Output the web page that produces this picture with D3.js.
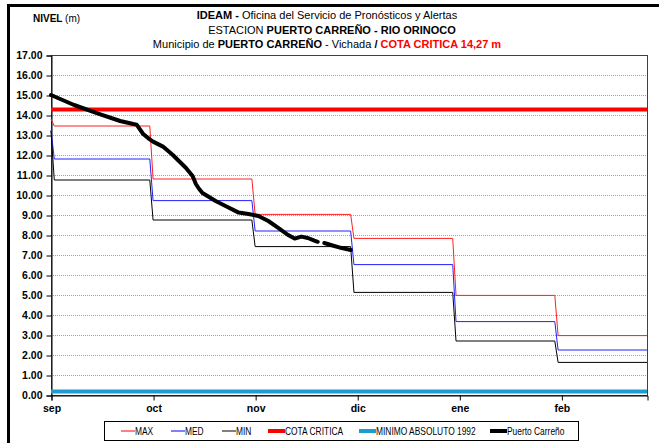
<!DOCTYPE html>
<html>
<head>
<meta charset="utf-8">
<script src="https://cdn.jsdelivr.net/npm/d3@7/dist/d3.min.js"></script>
<style>
  html, body { margin: 0; padding: 0; background: #fff; }
  svg { display: block; }
  text { font-family: "Liberation Sans Narrow", "Arial Narrow", "Liberation Sans", Arial, sans-serif; }
</style>
</head>
<body>
<svg id="chart" width="659" height="443"></svg>
<script>
// Monthly reference levels (m) — each month is a flat step
const monthNames = ["sep", "oct", "nov", "dic", "ene", "feb"];
const monthTickDay = [0, 31, 62, 93, 124, 155];   // axis tick positions (day index, 0 = 31 ago)
const monthFirstDay = [1, 31, 62, 92, 123, 154];
const monthLastDay  = [30, 61, 91, 122, 153, 181];
const maxStart = 13.8, medStart = 13.25, minStart = 13.2;   // value on day 0
const maxValues = [13.45, 10.80, 9.03, 7.83, 4.98, 2.97];
const medValues = [11.80, 9.72, 8.20, 6.52, 3.67, 2.25];
const minValues = [10.75, 8.75, 7.42, 5.13, 2.70, 1.63];

const cotaCritica = 14.27;
const minimoAbsoluto1992 = 0.18;

// Observed daily level at Puerto Carreño (null = missing reading)
const obsDay = [0, 7, 15, 21, 25, 26, 28, 30, 31, 34, 37, 41, 43, 44, 45, 46, 50, 53, 57, 60, 63, 66, 69, 72, 74, 76, 78, 80, 81, 82, 83, 85, 88, 91];
const obsLevel = [15.00, 14.50, 14.03, 13.70, 13.55, 13.52, 13.05, 12.78, 12.67, 12.42, 12.00, 11.35, 10.95, 10.55, 10.30, 10.10, 9.70, 9.45, 9.12, 9.05, 8.95, 8.70, 8.36, 8.00, 7.82, 7.92, 7.85, 7.72, 7.66, null, 7.60, 7.50, 7.36, 7.25];

const yTicks = d3.range(0, 17.01, 1);

const svg = d3.select("#chart");
const W = 659, H = 443;
const plot = { left: 51, top: 55, right: 647, bottom: 395 };

const x = d3.scaleLinear().domain([0, 181]).range([plot.left, plot.right]);
const y = d3.scaleLinear().domain([0, 17]).range([plot.bottom, plot.top]);

// outer frame
svg.append("rect")
  .attr("x", 8.5).attr("y", 5.5).attr("width", W + 10).attr("height", H + 10)
  .attr("fill", "none").attr("stroke", "#000").attr("stroke-width", 3);

// titles
const title = svg.append("g").attr("text-anchor", "middle").attr("font-size", 11).attr("fill", "#000");
const t1 = title.append("text").attr("x", 327).attr("y", 19);
t1.append("tspan").attr("font-weight", "bold").text("IDEAM - ");
t1.append("tspan").text("Oficina del Servicio de Pronósticos y Alertas");
const t2 = title.append("text").attr("x", 332).attr("y", 33.5);
t2.append("tspan").text("ESTACION ");
t2.append("tspan").attr("font-weight", "bold").text("PUERTO CARREÑO - RIO ORINOCO");
const t3 = title.append("text").attr("x", 327).attr("y", 48);
t3.append("tspan").text("Municipio de ");
t3.append("tspan").attr("font-weight", "bold").text("PUERTO CARREÑO");
t3.append("tspan").text(" - Vichada ");
t3.append("tspan").attr("font-weight", "bold").text(" /  ");
t3.append("tspan").attr("font-weight", "bold").attr("fill", "#ff0000").text("COTA CRITICA 14,27 m");

const yl = svg.append("text").attr("x", 33).attr("y", 22).attr("font-size", 10);
yl.append("tspan").attr("font-weight", "bold").text("NIVEL ");
yl.append("tspan").text("(m)");

// horizontal dotted grid
svg.append("g")
  .selectAll("line").data(yTicks.filter(v => v > 0 && v < 17)).join("line")
  .attr("x1", plot.left).attr("x2", plot.right)
  .attr("y1", d => y(d) + 0.5).attr("y2", d => y(d) + 0.5)
  .attr("stroke", "#a0a0a0").attr("stroke-width", 1).attr("stroke-dasharray", "1,1");

// plot border
svg.append("rect")
  .attr("x", plot.left + 0.5).attr("y", plot.top + 0.5)
  .attr("width", plot.right - plot.left).attr("height", plot.bottom - plot.top)
  .attr("fill", "none").attr("stroke", "#404040").attr("stroke-width", 1);

// y axis
const yAxis = d3.axisLeft(y).tickValues(yTicks).tickFormat(d3.format(".2f")).tickSize(5).tickPadding(4);
const gy = svg.append("g").attr("transform", `translate(${plot.left + 0.5},0.5)`).call(yAxis);
gy.select(".domain").attr("stroke", "#000");
gy.selectAll(".tick line").attr("stroke", "#000");
gy.selectAll("text").attr("font-size", 10.5).attr("font-weight", "bold").attr("fill", "#000")
  .style("font-family", '"Liberation Sans Narrow", "Arial Narrow", sans-serif');

// x axis
const xAxis = d3.axisBottom(x).tickValues(monthTickDay).tickFormat((d, i) => monthNames[i]).tickSize(5).tickPadding(4);
const gx = svg.append("g").attr("transform", `translate(0.5,${plot.bottom + 0.5})`).call(xAxis);
gx.select(".domain").attr("stroke", "#000");
gx.selectAll(".tick line").attr("stroke", "#000");
gx.selectAll("text").attr("font-size", 10.5).attr("font-weight", "bold").attr("fill", "#000")
  .style("font-family", '"Liberation Sans Narrow", "Arial Narrow", sans-serif');

// monthly step series
function stepPoints(start, values) {
  const pts = [[0, start]];
  values.forEach((v, i) => { pts.push([monthFirstDay[i], v]); pts.push([monthLastDay[i], v]); });
  return pts;
}
const line = d3.line().x(d => x(d[0])).y(d => y(d[1]));

const series = [
  { start: maxStart, values: maxValues, color: "#ff2020" },
  { start: medStart, values: medValues, color: "#2020ff" },
  { start: minStart, values: minValues, color: "#000000" }
];
svg.append("g").selectAll("path").data(series).join("path")
  .attr("d", s => line(stepPoints(s.start, s.values)))
  .attr("fill", "none").attr("stroke", s => s.color).attr("stroke-width", 1);

// reference levels
svg.append("line")
  .attr("x1", x(0)).attr("x2", x(181))
  .attr("y1", y(cotaCritica)).attr("y2", y(cotaCritica))
  .attr("stroke", "#ff0000").attr("stroke-width", 4);
svg.append("line")
  .attr("x1", x(0)).attr("x2", x(181))
  .attr("y1", y(minimoAbsoluto1992)).attr("y2", y(minimoAbsoluto1992))
  .attr("stroke", "#1e9bd1").attr("stroke-width", 4);

// observed levels
const obs = obsDay.map((d, i) => [d, obsLevel[i]]);
svg.append("path")
  .datum(obs)
  .attr("d", d3.line().defined(d => d[1] != null).x(d => x(d[0])).y(d => y(d[1])))
  .attr("fill", "none").attr("stroke", "#000").attr("stroke-width", 4)
  .attr("stroke-linejoin", "round").attr("stroke-linecap", "round");

// legend
const lg = svg.append("g");
lg.append("rect").attr("x", 104.5).attr("y", 421.5).attr("width", 474).attr("height", 19)
  .attr("fill", "#fff").attr("stroke", "#000").attr("stroke-width", 1);
const legendItems = [
  { label: "MAX", color: "#ff0000", w: 1, x0: 121 },
  { label: "MED", color: "#0000ff", w: 1, x0: 171 },
  { label: "MIN", color: "#000000", w: 1, x0: 222 },
  { label: "COTA CRITICA", color: "#ff0000", w: 4, x0: 268 },
  { label: "MINIMO ABSOLUTO 1992", color: "#1e9bd1", w: 4, x0: 359 },
  { label: "Puerto Carreño", color: "#000000", w: 4, x0: 490 }
];
legendItems.forEach(it => {
  const len = it.w > 1 ? 17 : 14;
  lg.append("line").attr("x1", it.x0).attr("x2", it.x0 + len)
    .attr("y1", 431).attr("y2", 431).attr("stroke", it.color).attr("stroke-width", it.w);
  // condensed label
  lg.append("text")
    .attr("transform", `translate(${it.x0 + len},434.5) scale(0.8,1)`)
    .attr("font-size", 10.5).text(it.label);
});
</script>
</body>
</html>
